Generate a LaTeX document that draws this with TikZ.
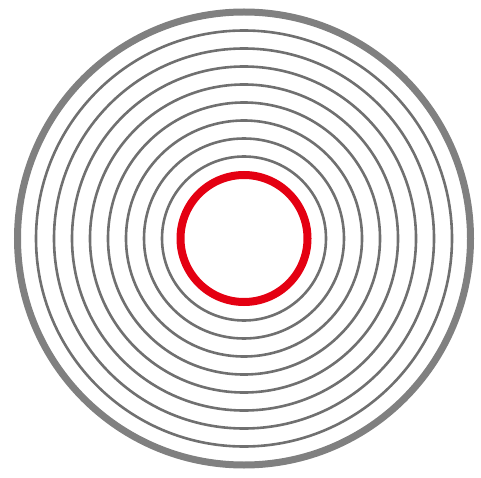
\documentclass[tikz,border=0pt]{standalone}
\begin{document}
\begin{tikzpicture}[x=1pt,y=-1pt,
  thinring/.style={draw=thingray,line width=2.6pt},
  outerring/.style={draw=ringgray,line width=7pt},
  redring/.style={draw=ringred,line width=8pt}]
\definecolor{ringgray}{RGB}{128,128,128}
\definecolor{thingray}{RGB}{112,112,112}
\definecolor{ringred}{RGB}{228,0,18}
\useasboundingbox (0,0) rectangle (481,478);
\coordinate (c) at (244,238.5);
\foreach \k in {1,...,8}{
  \draw[thinring] (c) circle[radius={64+18*\k}];
}
\draw[outerring] (c) circle[radius=226.5];
\draw[redring] (c) circle[radius=63.5];
\end{tikzpicture}
\end{document}
